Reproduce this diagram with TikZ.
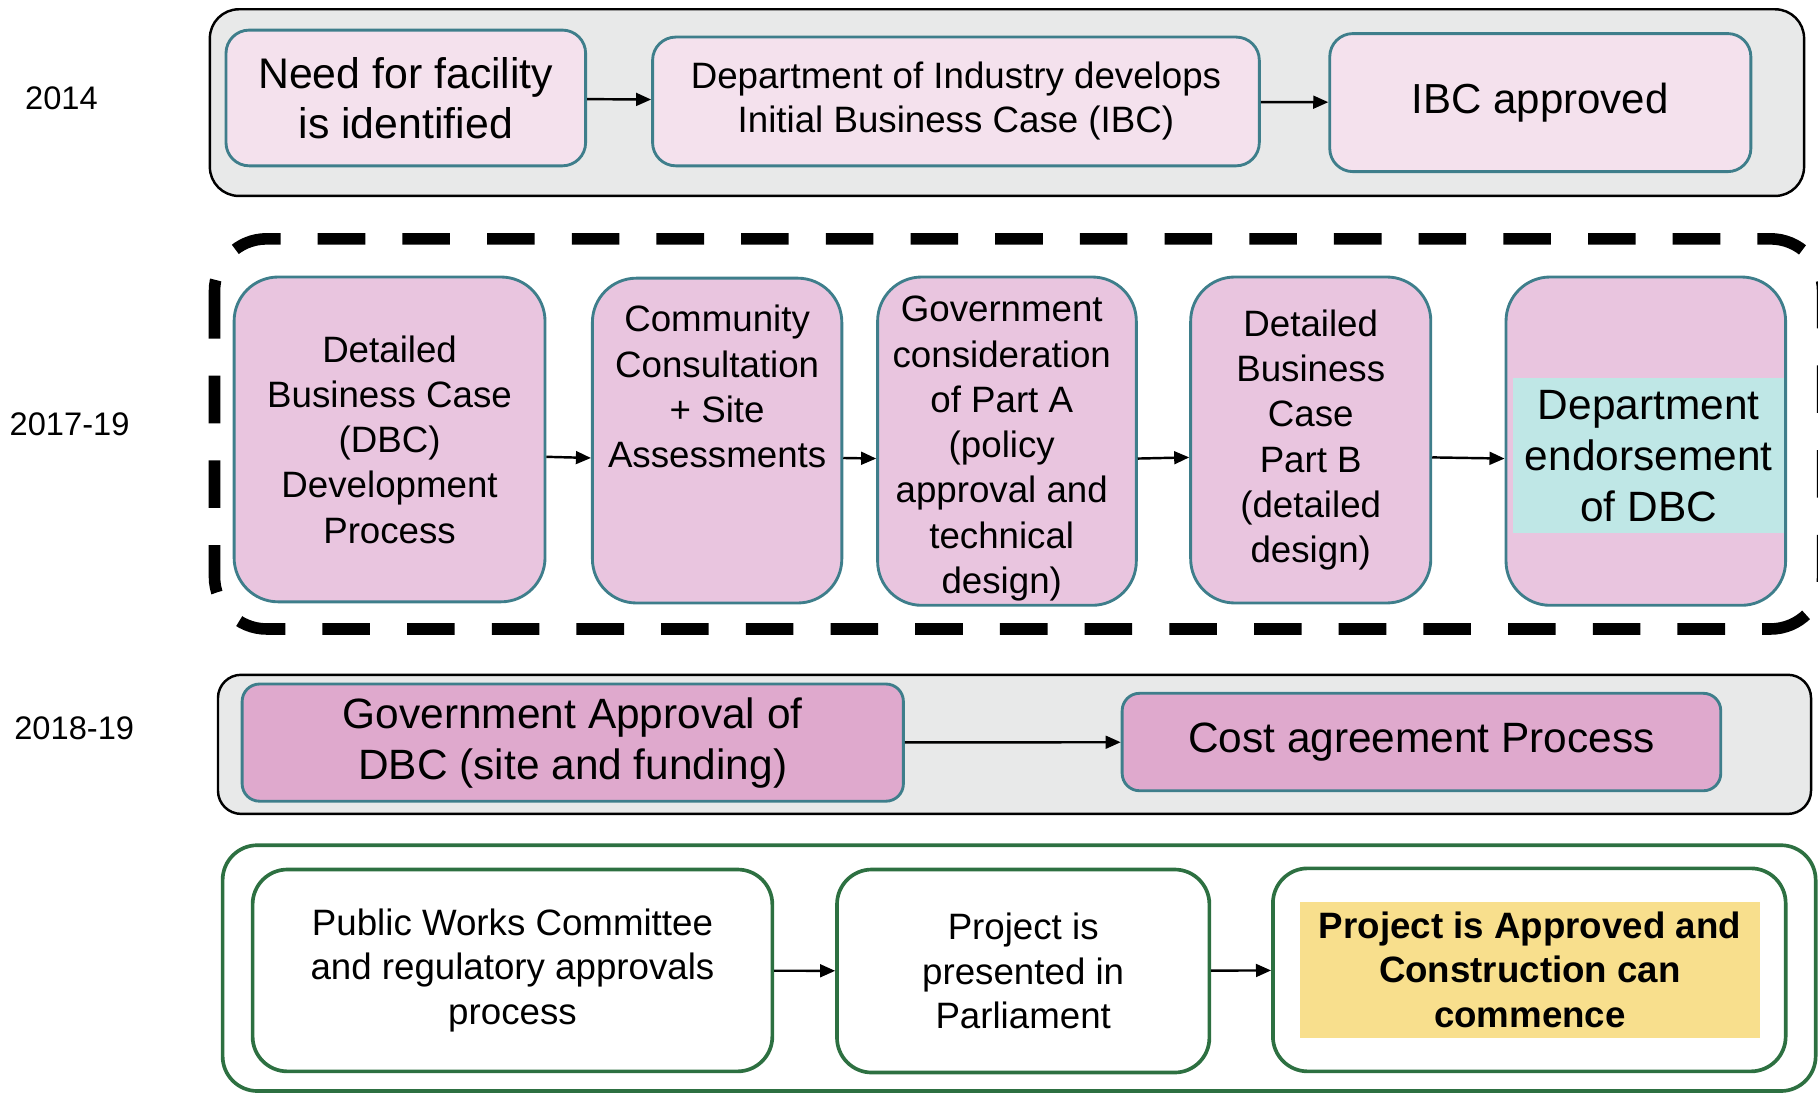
\documentclass[tikz,border=0pt]{standalone}
\usepackage{fontspec}
\setmainfont{Liberation Sans}
\usetikzlibrary{arrows.meta,positioning}

\definecolor{framegray}{HTML}{E8E9E9}
\definecolor{palepink}{HTML}{F4E1ED}
\definecolor{midpink}{HTML}{E9C5DF}
\definecolor{deeppink}{HTML}{DFA9CD}
\definecolor{tealedge}{HTML}{3E7E8B}
\definecolor{endorsecyan}{HTML}{BFE7E6}
\definecolor{approvegreen}{HTML}{2D7041}
\definecolor{commenceyellow}{HTML}{F8DF8D}

\tikzset{
    yearlabel/.style={font=\fontsize{8}{10}\selectfont},
    bandframe/.style={draw=black, fill=framegray, line width=0.6pt, rounded corners=0.25cm},
    ibcbox/.style={draw=tealedge, fill=palepink, line width=0.7pt, rounded corners=0.2cm, align=center, inner sep=1pt},
    dbcbox/.style={draw=tealedge, fill=midpink, line width=0.7pt, rounded corners=0.38cm, align=center, inner sep=1pt, font=\fontsize{9}{11.1}\selectfont},
    dbctext/.style={align=center, inner sep=0pt, font=\fontsize{9}{11.1}\selectfont},
    fundbox/.style={draw=tealedge, fill=deeppink, line width=0.7pt, rounded corners=0.15cm, align=center, inner sep=1pt, font=\fontsize{10.4}{12.5}\selectfont},
    parlbox/.style={draw=approvegreen, fill=white, line width=0.9pt, rounded corners=0.3cm, align=center, inner sep=1pt, font=\fontsize{9}{11}\selectfont},
    arr/.style={-{Triangle[length=0.13cm,width=0.11cm]}, line width=0.6pt}
}

\begin{document}
\begin{tikzpicture}[x=0.01cm, y=-0.01cm]
    \useasboundingbox (0,0) rectangle (1568,943);
    \clip (0,0) rectangle (1568,943);

    % year labels
    \node [yearlabel] (y2014) at (53,85) {2014};
    \node [yearlabel] (y2017) at (60,366) {2017-19};
    \node [yearlabel] (y2018) at (64,628) {2018-19};

    % 2014: initial business case
    \draw [bandframe] (181,8) rectangle (1556,169);
    \node [ibcbox, minimum width=3.10cm, minimum height=1.17cm, font=\fontsize{10.5}{12.2}\selectfont] (need) at (350,84.5) {Need for facility\\is identified};
    \node [ibcbox, minimum width=5.23cm, minimum height=1.11cm, font=\fontsize{9}{10.8}\selectfont] (ibcdev) at (824.5,87.5) {Department of Industry develops\\Initial Business Case (IBC)};
    \node [ibcbox, minimum width=3.63cm, minimum height=1.19cm, font=\fontsize{10.3}{12.4}\selectfont] (ibcok) at (1328.5,88.5) {IBC approved};
    \draw [arr] (need) -- (ibcdev);
    \draw [arr] (ibcdev) -- (ibcok);

    % 2017-19: detailed business case
    \draw [line width=0.1cm, dash pattern=on 0.41cm off 0.32cm, rounded corners=0.45cm] (185,206) rectangle (1572,542.5);
    \node [dbcbox, minimum width=2.68cm, minimum height=2.80cm] (dbcdev) at (336,379) {Detailed\\Business Case\\(DBC)\\Development\\Process};
    \node [dbcbox, minimum width=2.15cm, minimum height=2.80cm] (consult) at (618.5,380) {};
    \node [dbctext] (consulttxt) at (618.5,333.5) {Community\\Consultation\\+ Site\\Assessments};
    \node [dbcbox, minimum width=2.23cm, minimum height=2.83cm] (parta) at (868.5,380.5) {};
    \node [dbctext] (partatxt) at (864,387) {Government\\consideration\\of Part A\\(policy\\approval and\\technical\\design)};
    \node [dbcbox, minimum width=2.07cm, minimum height=2.81cm] (partb) at (1130.5,379.5) {Detailed\\Business\\Case\\Part B\\(detailed\\design)};
    \node [dbcbox, minimum width=2.41cm, minimum height=2.83cm] (endorse) at (1419.5,380.5) {};
    \node [fill=endorsecyan, align=center, inner sep=0pt, minimum width=2.34cm, minimum height=1.34cm, font=\fontsize{10.4}{12.5}\selectfont] (endorsetxt) at (1422,393) {Department\\endorsement\\of DBC};
    \foreach \a/\b in {dbcdev/consult, consult/parta, parta/partb, partb/endorse}
    {
        \draw [arr] ([yshift=-0.15cm]\a.east) -- ([yshift=-0.15cm]\b.west);
    }

    % 2018-19: government approval
    \draw [bandframe, rounded corners=0.2cm] (188,582) rectangle (1562,702);
    \node [fundbox, minimum width=5.70cm, minimum height=1.01cm] (govok) at (494,640.5) {Government Approval of\\DBC (site and funding)};
    \node [fundbox, minimum width=5.16cm, minimum height=0.84cm] (cost) at (1226,640) {Cost agreement Process};
    \draw [arr] (govok) -- (cost);

    % parliament and construction
    \draw [draw=approvegreen, line width=0.9pt, rounded corners=0.3cm] (192,729) rectangle (1566,941);
    \node [parlbox, minimum width=4.48cm, minimum height=1.74cm] (pwc) at (442,837) {Public Works Committee\\and regulatory approvals\\process};
    \node [parlbox, minimum width=3.21cm, minimum height=1.75cm] (parl) at (882.5,837.5) {Project is\\presented in\\Parliament};
    \node [parlbox, minimum width=4.42cm, minimum height=1.75cm] (start) at (1319,836.5) {};
    \node [fill=commenceyellow, align=center, inner sep=0pt, minimum width=3.97cm, minimum height=1.17cm, font=\fontsize{9}{11}\selectfont\bfseries] (starttxt) at (1319.5,836.5) {Project is Approved and\\Construction can\\commence};
    \draw [arr] (pwc) -- (parl);
    \draw [arr] (parl) -- (start);
\end{tikzpicture}
\end{document}
